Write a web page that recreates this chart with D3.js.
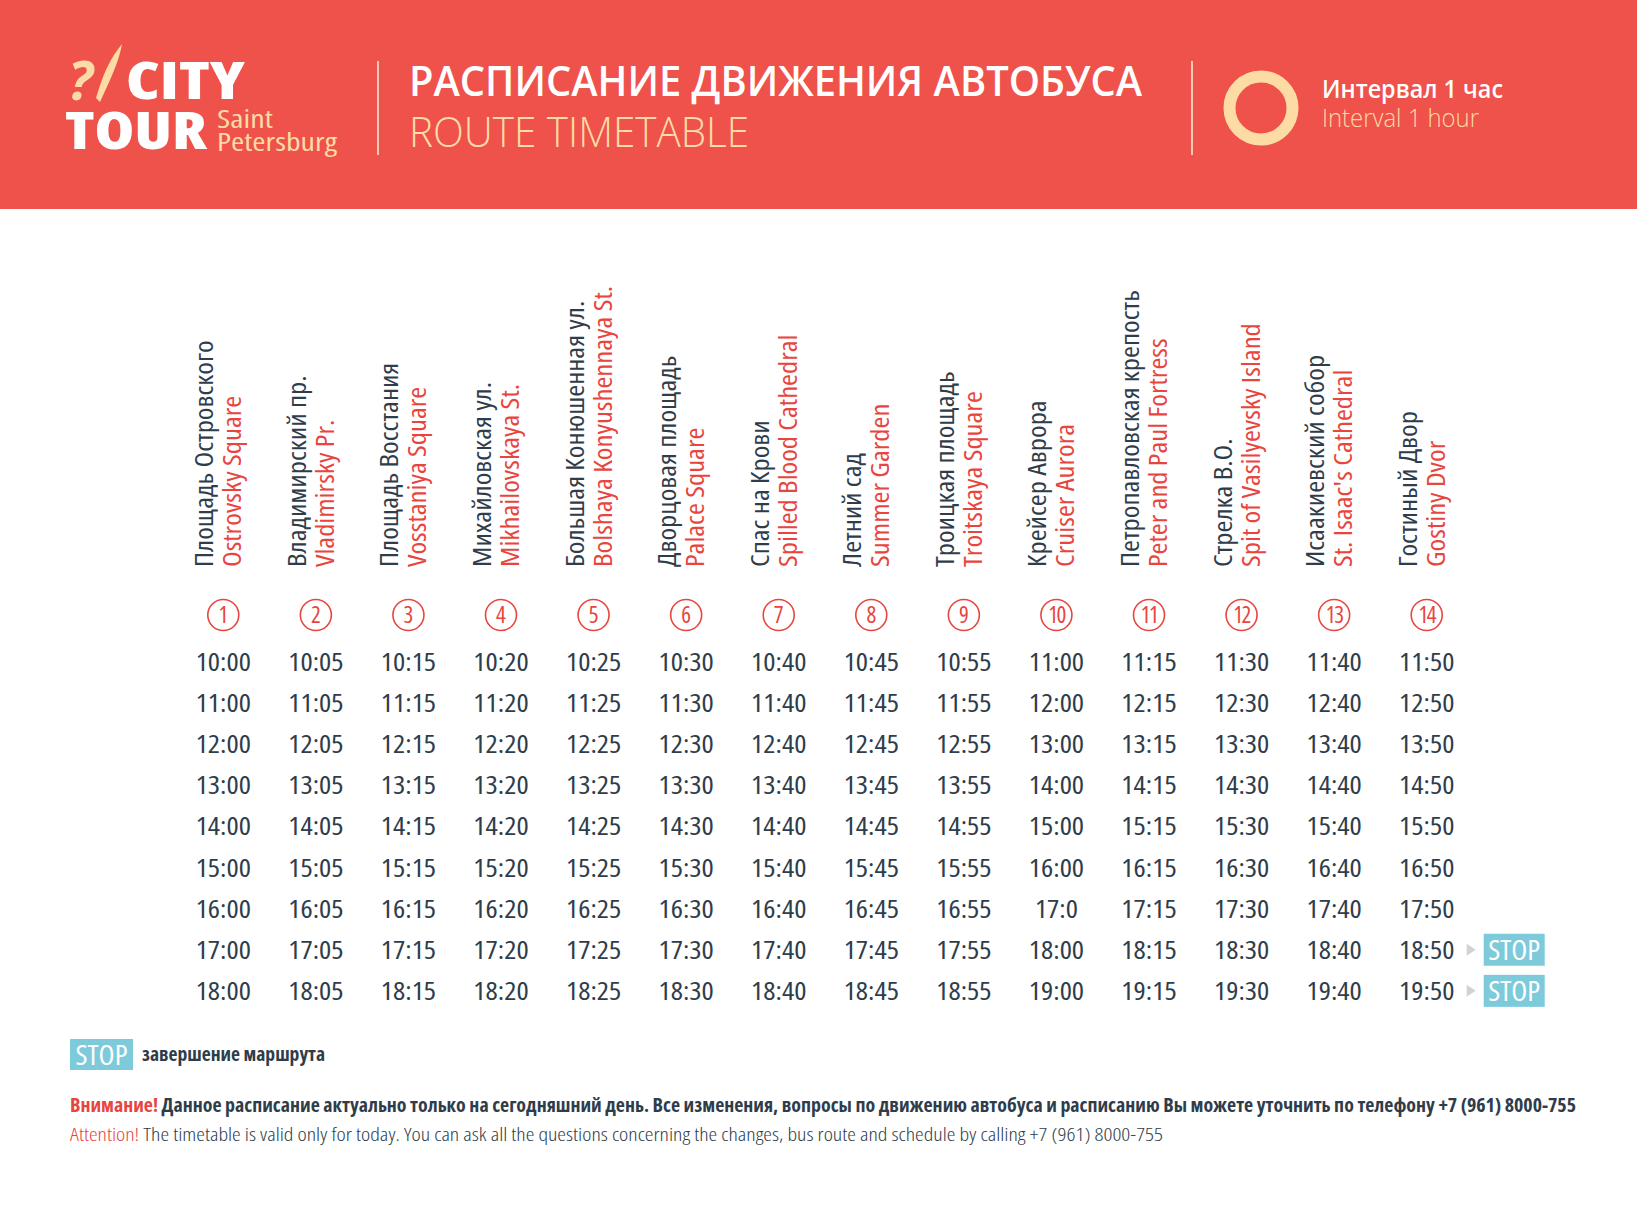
<!DOCTYPE html>
<html>
<head>
<meta charset="utf-8">
<script src="https://cdn.jsdelivr.net/npm/d3@7"></script>
<style>
  body { margin: 0; background: #fff; }
  svg text { font-family: "Open Sans", "Noto Sans", sans-serif; }
  .narrow { font-stretch: condensed; }
</style>
</head>
<body>
<div id="chart"></div>
<script>
// page size
var width = 1637;
var height = 1222;
// condensed font is a bit too narrow, widen it along the text
var stretch = 1.15;

// stops, russian + english names
var stopsRu = ["Площадь Островского", "Владимирский пр.", "Площадь Восстания", "Михайловская ул.",
  "Большая Конюшенная ул.", "Дворцовая площадь", "Спас на Крови", "Летний сад",
  "Троицкая площадь", "Крейсер Аврора", "Петропавловская крепость", "Стрелка В.О.",
  "Исаакиевский собор", "Гостиный Двор"];
var stopsEn = ["Ostrovsky Square", "Vladimirsky Pr.", "Vosstaniya Square", "Mikhailovskaya St.",
  "Bolshaya  Konyushennaya St.", "Palace Square", "Spilled Blood Cathedral", "Summer Garden",
  "Troitskaya Square", "Cruiser Aurora", "Peter and Paul Fortress", "Spit of Vasilyevsky Island",
  "St. Isaac's Cathedral", "Gostiny Dvor"];
var stopNums = [1, 2, 3, 4, 5, 6, 7, 8, 9, 10, 11, 12, 13, 14];

// timetable, one array per run
var run1 = ["10:00","10:05","10:15","10:20","10:25","10:30","10:40","10:45","10:55","11:00","11:15","11:30","11:40","11:50"];
var run2 = ["11:00","11:05","11:15","11:20","11:25","11:30","11:40","11:45","11:55","12:00","12:15","12:30","12:40","12:50"];
var run3 = ["12:00","12:05","12:15","12:20","12:25","12:30","12:40","12:45","12:55","13:00","13:15","13:30","13:40","13:50"];
var run4 = ["13:00","13:05","13:15","13:20","13:25","13:30","13:40","13:45","13:55","14:00","14:15","14:30","14:40","14:50"];
var run5 = ["14:00","14:05","14:15","14:20","14:25","14:30","14:40","14:45","14:55","15:00","15:15","15:30","15:40","15:50"];
var run6 = ["15:00","15:05","15:15","15:20","15:25","15:30","15:40","15:45","15:55","16:00","16:15","16:30","16:40","16:50"];
var run7 = ["16:00","16:05","16:15","16:20","16:25","16:30","16:40","16:45","16:55","17:0","17:15","17:30","17:40","17:50"];
var run8 = ["17:00","17:05","17:15","17:20","17:25","17:30","17:40","17:45","17:55","18:00","18:15","18:30","18:40","18:50"];
var run9 = ["18:00","18:05","18:15","18:20","18:25","18:30","18:40","18:45","18:55","19:00","19:15","19:30","19:40","19:50"];
var runs = [run1, run2, run3, run4, run5, run6, run7, run8, run9];

// runs (1-based) that end with STOP
var stopRuns = [8, 9];

// colours
var red = "#ef514b";
var textRed = "#e8453e";
var dark = "#2f3d4b";
var cream = "#fcdca4";
var blue = "#7dcadb";

var svg = d3.select("#chart")
  .append("svg")
  .attr("width", width)
  .attr("height", height);

// ---------- header band ----------
svg.append("rect")
  .attr("x", 0).attr("y", 0)
  .attr("width", width).attr("height", 209)
  .attr("fill", red);

// logo
var logo = svg.append("g");
logo.append("text")
  .attr("x", 68).attr("y", 100)
  .attr("font-family", "DejaVu Serif")
  .attr("font-style", "italic")
  .attr("font-weight", "bold")
  .attr("font-size", 54)
  .attr("fill", cream)
  .text("?");
logo.append("path")
  .attr("d", "M96,98 C102,80 106,64 122,44 C119,62 110,80 100,102 Z")
  .attr("fill", cream);
logo.append("text")
  .attr("x", 126).attr("y", 99)
  .attr("font-size", 52).attr("font-weight", 800)
  .attr("fill", "#fff")
  .attr("class", "narrow")
  .attr("textLength", 119).attr("lengthAdjust", "spacingAndGlyphs")
  .text("CITY");
logo.append("text")
  .attr("x", 65).attr("y", 149)
  .attr("font-size", 52).attr("font-weight", 800)
  .attr("fill", "#fff")
  .attr("class", "narrow")
  .attr("textLength", 142).attr("lengthAdjust", "spacingAndGlyphs")
  .text("TOUR");
logo.append("text")
  .attr("x", 217).attr("y", 128)
  .attr("font-size", 25).attr("fill", cream)
  .attr("class", "narrow")
  .attr("textLength", 56).attr("lengthAdjust", "spacingAndGlyphs")
  .text("Saint");
logo.append("text")
  .attr("x", 217).attr("y", 151)
  .attr("font-size", 25).attr("fill", cream)
  .attr("class", "narrow")
  .attr("textLength", 120).attr("lengthAdjust", "spacingAndGlyphs")
  .text("Petersburg");

// dividers
[378, 1192].forEach(function(x) {
  svg.append("line")
    .attr("x1", x).attr("x2", x)
    .attr("y1", 61).attr("y2", 155)
    .attr("stroke", "#f8c9b4")
    .attr("stroke-width", 2);
});

// title
svg.append("text")
  .attr("x", 409).attr("y", 96)
  .attr("font-size", 42).attr("font-weight", 600)
  .attr("fill", "#fff")
  .attr("textLength", 733).attr("lengthAdjust", "spacingAndGlyphs")
  .text("РАСПИСАНИЕ ДВИЖЕНИЯ АВТОБУСА");
svg.append("text")
  .attr("x", 409).attr("y", 147)
  .attr("font-size", 42).attr("font-weight", 300)
  .attr("fill", cream)
  .attr("textLength", 340).attr("lengthAdjust", "spacingAndGlyphs")
  .text("ROUTE TIMETABLE");

// interval ring
svg.append("circle")
  .attr("cx", 1261).attr("cy", 108).attr("r", 31.5)
  .attr("fill", "none")
  .attr("stroke", cream)
  .attr("stroke-width", 12);
svg.append("text")
  .attr("x", 1322).attr("y", 98)
  .attr("font-size", 25).attr("font-weight", 600)
  .attr("fill", "#fff")
  .attr("textLength", 181).attr("lengthAdjust", "spacingAndGlyphs")
  .text("Интервал 1 час");
svg.append("text")
  .attr("x", 1322).attr("y", 127)
  .attr("font-size", 25).attr("font-weight", 300)
  .attr("fill", cream)
  .attr("textLength", 157).attr("lengthAdjust", "spacingAndGlyphs")
  .text("Interval 1 hour");

// ---------- scales ----------
var xScale = d3.scaleBand()
  .domain(stopNums)
  .range([177, 1473]);
var yScale = d3.scaleBand()
  .domain(d3.range(1, runs.length + 1))
  .range([641.5, 1011.4]);

function cx(n) { return xScale(n) + xScale.bandwidth() / 2; }
function cy(r) { return yScale(r) + yScale.bandwidth() / 2; }

// ---------- stop names (rotated) ----------
var heads = svg.selectAll("g.head")
  .data(stopNums)
  .enter()
  .append("g")
  .attr("class", "head")
  .attr("transform", function(d) {
    return "translate(" + cx(d) + ",567)rotate(-90)scale(" + stretch + ",1)";
  });

heads.append("text")
  .attr("x", 0).attr("y", -10)
  .attr("font-size", 25)
  .attr("class", "narrow")
  .attr("fill", dark)
  .text(function(d, i) { return stopsRu[i]; });
heads.append("text")
  .attr("x", 0).attr("y", 18)
  .attr("font-size", 25)
  .attr("class", "narrow")
  .attr("fill", textRed)
  .text(function(d, i) { return stopsEn[i]; });

// numbered circles
var nums = svg.selectAll("g.num")
  .data(stopNums)
  .enter()
  .append("g")
  .attr("class", "num")
  .attr("transform", function(d) { return "translate(" + cx(d) + ",615)"; });
nums.append("circle")
  .attr("r", 15.5)
  .attr("fill", "none")
  .attr("stroke", textRed)
  .attr("stroke-width", 1.6);
nums.append("text")
  .attr("y", 8)
  .attr("text-anchor", "middle")
  .attr("font-size", 23)
  .attr("class", "narrow")
  .attr("fill", textRed)
  .attr("letter-spacing", function(d) { return d > 9 ? -1.5 : 0; })
  .text(function(d) { return d; });

// ---------- times ----------
var rows = svg.selectAll("g.row")
  .data(runs)
  .enter()
  .append("g")
  .attr("class", "row")
  .attr("transform", function(d, i) { return "translate(0," + cy(i + 1) + ")"; });

rows.selectAll("text")
  .data(function(d) { return d; })
  .enter()
  .append("text")
  .attr("transform", function(d, j) {
    return "translate(" + cx(stopNums[j]) + ",9)scale(" + stretch + ",1)";
  })
  .attr("text-anchor", "middle")
  .attr("font-size", 25)
  .attr("class", "narrow")
  .attr("fill", dark)
  .text(function(d) { return d; });

// STOP markers
var lastX = cx(stopNums[stopNums.length - 1]);
var stops = svg.selectAll("g.stop")
  .data(stopRuns)
  .enter()
  .append("g")
  .attr("class", "stop")
  .attr("transform", function(d) { return "translate(0," + cy(d) + ")"; });
stops.append("path")
  .attr("d", "M" + (lastX + 40) + ",-6 L" + (lastX + 49) + ",0 L" + (lastX + 40) + ",6 Z")
  .attr("fill", "#cfd3d6");
stops.append("rect")
  .attr("x", lastX + 57).attr("y", -16)
  .attr("width", 61).attr("height", 32)
  .attr("fill", blue);
stops.append("text")
  .attr("x", lastX + 87.5).attr("y", 10)
  .attr("text-anchor", "middle")
  .attr("font-size", 28)
  .attr("class", "narrow")
  .attr("fill", "#fff")
  .attr("textLength", 52).attr("lengthAdjust", "spacingAndGlyphs")
  .text("STOP");

// ---------- legend ----------
svg.append("rect")
  .attr("x", 70).attr("y", 1039)
  .attr("width", 63).attr("height", 31)
  .attr("fill", blue);
svg.append("text")
  .attr("x", 101.5).attr("y", 1065)
  .attr("text-anchor", "middle")
  .attr("font-size", 28)
  .attr("class", "narrow")
  .attr("fill", "#fff")
  .attr("textLength", 52).attr("lengthAdjust", "spacingAndGlyphs")
  .text("STOP");
svg.append("text")
  .attr("x", 142).attr("y", 1061)
  .attr("font-size", 19).attr("font-weight", 700)
  .attr("class", "narrow")
  .attr("fill", dark)
  .attr("textLength", 183).attr("lengthAdjust", "spacingAndGlyphs")
  .text("завершение маршрута");

// ---------- footer note ----------
var note1 = svg.append("text")
  .attr("x", 70).attr("y", 1112)
  .attr("font-size", 19).attr("font-weight", 700)
  .attr("class", "narrow")
  .attr("textLength", 1506).attr("lengthAdjust", "spacingAndGlyphs");
note1.append("tspan").attr("fill", textRed).text("Внимание! ");
note1.append("tspan").attr("fill", dark)
  .text("Данное расписание актуально только на сегодняшний день. Все изменения, вопросы  по движению автобуса и расписанию Вы можете уточнить по телефону +7 (961) 8000-755");

var note2 = svg.append("text")
  .attr("x", 70).attr("y", 1141)
  .attr("font-size", 19).attr("font-weight", 300)
  .attr("class", "narrow")
  .attr("textLength", 1093).attr("lengthAdjust", "spacingAndGlyphs");
note2.append("tspan").attr("fill", textRed).text("Attention! ");
note2.append("tspan").attr("fill", dark)
  .text("The timetable is valid only for today. You can ask all the questions concerning the changes, bus route and schedule by calling +7 (961) 8000-755");
</script>
</body>
</html>
